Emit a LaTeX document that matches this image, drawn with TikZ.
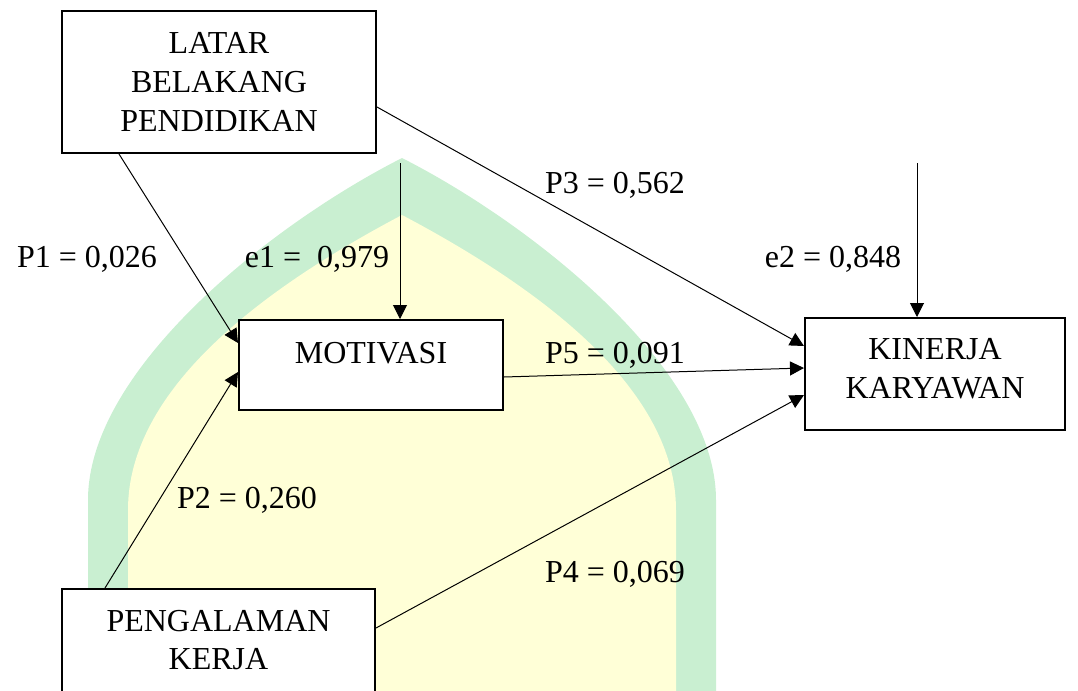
\documentclass[tikz,border=0pt]{standalone}
\usepackage{fontspec}
\setmainfont{Liberation Serif}
\usetikzlibrary{arrows.meta}
\definecolor{wmgreen}{RGB}{201,239,209}
\definecolor{wmyellow}{RGB}{255,255,215}

\begin{document}
\begin{tikzpicture}[
  x=0.5pt, y=-0.5pt,
  font=\fontsize{16}{19.3}\selectfont,
  box/.style={draw, line width=1pt, fill=white, align=center, inner sep=0pt},
  arr/.style={-{Triangle[length=7pt, width=7pt]}, line width=0.5pt}
]
  \useasboundingbox (0,0) rectangle (1078,691);
  % watermark behind the diagram
  \fill[wmgreen] (88,700) -- (88,500) .. controls (88,370) and (270,225) .. (402,158)
    .. controls (534,225) and (716,370) .. (716,500) -- (716,700) -- cycle;
  \fill[wmyellow] (128,700) -- (128,510) .. controls (128,390) and (260,290) .. (402,215)
    .. controls (544,290) and (676,390) .. (676,510) -- (676,700) -- cycle;

  % variables
  \node[box, minimum width=157pt, minimum height=71pt] (lbp) at (219,82)
    {LATAR\\BELAKANG\\PENDIDIKAN};
  \node[box, minimum width=132pt, minimum height=45pt, text depth=12pt] (mot) at (371,365)
    {MOTIVASI};
  \node[box, minimum width=130pt, minimum height=56pt, text depth=5.5pt] (kin) at (935,374)
    {KINERJA\\KARYAWAN};
  \node[box, minimum width=156.5pt, minimum height=54pt, text depth=3pt] (pk) at (218.5,643)
    {PENGALAMAN\\KERJA};

  % path coefficients and errors
  \node (p1) at (87,259)  {P1 = 0,026};
  \node (e1) at (317,259) {e1 = \ 0,979};
  \node (p3) at (615,185) {P3 = 0,562};
  \node (e2) at (833,259) {e2 = 0,848};
  \node (p5) at (615,355) {P5 = 0,091};
  \node (p2) at (247,500) {P2 = 0,260};
  \node (p4) at (615,574) {P4 = 0,069};

  \coordinate (e1top) at (400,163);
  \coordinate (e2top) at (917,163);

  \draw[arr] ([xshift=-50pt]lbp.south)    -- ([yshift=11pt]mot.west);
  \draw[arr] ([xshift=-56.75pt]pk.north)  -- ([yshift=-3.5pt]mot.west);
  \draw[arr] ([yshift=-12.5pt]lbp.east)   -- ([yshift=14pt]kin.west);
  \draw[arr] ([yshift=-6pt]mot.east)      -- ([yshift=3pt]kin.west);
  \draw[arr] ([yshift=7.5pt]pk.east)      -- ([yshift=-10.5pt]kin.west);
  \draw[arr] (e1top) -- (e1top |- mot.north);
  \draw[arr] (e2top) -- (e2top |- kin.north);
\end{tikzpicture}
\end{document}
